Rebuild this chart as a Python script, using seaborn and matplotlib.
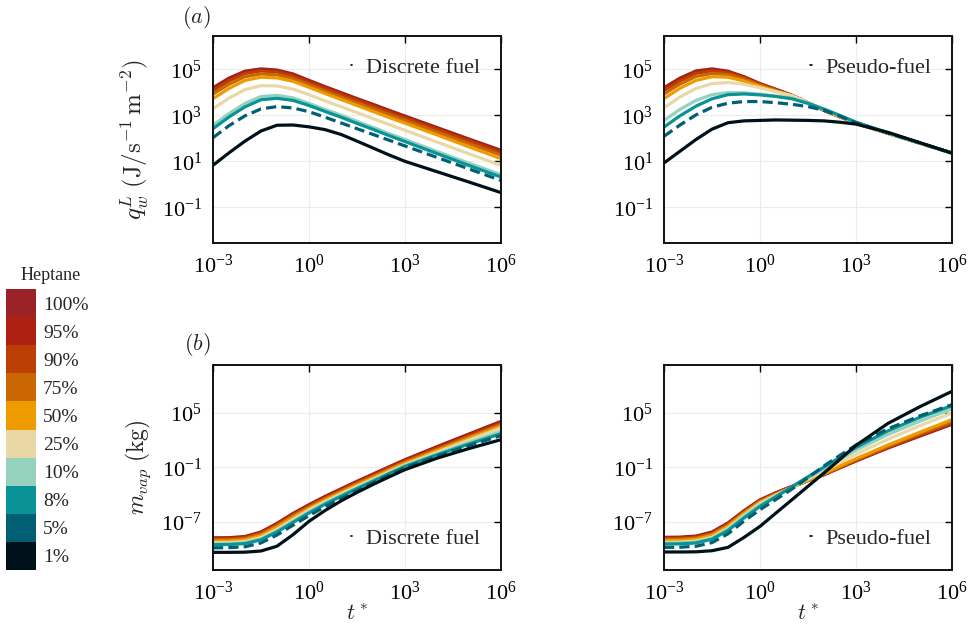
import numpy as np
import pandas as pd
import matplotlib
matplotlib.use("Agg")
import matplotlib.pyplot as plt
import seaborn as sns
from matplotlib.colors import ListedColormap, BoundaryNorm
from matplotlib.cm import ScalarMappable
from matplotlib.lines import Line2D

# ---------------- data (log10 values) ----------------
fractions = ["100%", "95%", "90%", "75%", "50%", "25%", "10%", "8%", "5%", "1%"]
colors = ["#9b2226", "#ae2012", "#bb3e03", "#ca6702", "#ee9b00",
          "#e9d8a6", "#94d2bd", "#0a9396", "#005f73", "#001219"]

log_t = [-3, -2.5, -2, -1.5, -1, -0.5, 0, 0.5, 1, 1.5, 2, 2.5, 3, 4, 5, 6]

# (a) wall heat flux, discrete fuel  (log10 q)
q_discrete = {
    "100%": [4.20, 4.62, 4.92, 5.02, 4.97, 4.80, 4.52, 4.25, 3.99, 3.73, 3.48, 3.22, 2.97, 2.47, 1.97, 1.48],
    "95%":  [4.15, 4.57, 4.88, 4.98, 4.93, 4.76, 4.48, 4.21, 3.95, 3.69, 3.44, 3.18, 2.93, 2.43, 1.93, 1.43],
    "90%":  [4.08, 4.50, 4.82, 4.93, 4.88, 4.71, 4.43, 4.16, 3.90, 3.64, 3.39, 3.13, 2.88, 2.38, 1.88, 1.38],
    "75%":  [3.93, 4.35, 4.68, 4.80, 4.76, 4.60, 4.33, 4.06, 3.80, 3.54, 3.29, 3.03, 2.78, 2.27, 1.77, 1.27],
    "50%":  [3.73, 4.17, 4.52, 4.66, 4.63, 4.48, 4.22, 3.95, 3.69, 3.43, 3.17, 2.91, 2.66, 2.15, 1.63, 1.12],
    "25%":  [3.29, 3.75, 4.12, 4.29, 4.28, 4.14, 3.90, 3.63, 3.38, 3.12, 2.86, 2.60, 2.35, 1.84, 1.33, 0.83],
    "10%":  [2.57, 3.08, 3.52, 3.82, 3.87, 3.76, 3.52, 3.26, 3.01, 2.74, 2.48, 2.21, 1.95, 1.43, 0.92, 0.42],
    "8%":   [2.42, 2.93, 3.37, 3.68, 3.74, 3.65, 3.43, 3.17, 2.92, 2.65, 2.39, 2.12, 1.86, 1.34, 0.82, 0.32],
    "5%":   [2.03, 2.55, 2.98, 3.28, 3.38, 3.32, 3.16, 2.92, 2.67, 2.42, 2.17, 1.92, 1.67, 1.17, 0.67, 0.17],
    "1%":   [0.83, 1.37, 1.88, 2.32, 2.57, 2.58, 2.50, 2.38, 2.17, 1.88, 1.58, 1.28, 1.00, 0.55, 0.10, -0.36],
}

# (a) wall heat flux, pseudo-fuel  (log10 q)
q_pseudo = {
    "100%": [4.20, 4.62, 4.93, 5.02, 4.92, 4.68, 4.38, 4.13, 3.87, 3.55, 3.22, 2.94, 2.66, 2.22, 1.79, 1.36],
    "95%":  [4.15, 4.57, 4.89, 4.98, 4.89, 4.66, 4.37, 4.12, 3.87, 3.55, 3.22, 2.94, 2.66, 2.22, 1.79, 1.36],
    "90%":  [4.08, 4.50, 4.83, 4.93, 4.85, 4.63, 4.35, 4.11, 3.86, 3.55, 3.22, 2.94, 2.66, 2.22, 1.79, 1.36],
    "75%":  [3.93, 4.36, 4.69, 4.82, 4.77, 4.57, 4.31, 4.08, 3.85, 3.55, 3.22, 2.94, 2.66, 2.22, 1.79, 1.36],
    "50%":  [3.73, 4.18, 4.52, 4.68, 4.66, 4.49, 4.26, 4.05, 3.84, 3.55, 3.23, 2.94, 2.66, 2.22, 1.79, 1.36],
    "25%":  [3.33, 3.80, 4.17, 4.38, 4.43, 4.35, 4.20, 4.03, 3.86, 3.56, 3.25, 2.96, 2.67, 2.22, 1.79, 1.36],
    "10%":  [2.78, 3.26, 3.65, 3.90, 3.99, 3.98, 3.92, 3.84, 3.74, 3.53, 3.28, 2.99, 2.70, 2.24, 1.80, 1.36],
    "8%":   [2.49, 2.98, 3.40, 3.72, 3.90, 3.93, 3.89, 3.82, 3.72, 3.52, 3.27, 2.99, 2.70, 2.24, 1.80, 1.36],
    "5%":   [2.09, 2.58, 3.02, 3.35, 3.53, 3.60, 3.60, 3.55, 3.48, 3.38, 3.22, 2.96, 2.68, 2.23, 1.80, 1.36],
    "1%":   [0.93, 1.44, 1.95, 2.40, 2.68, 2.76, 2.78, 2.80, 2.79, 2.78, 2.76, 2.70, 2.62, 2.26, 1.81, 1.36],
}

# (b) vapour mass, discrete fuel  (log10 m)
m_discrete = {
    "100%": [-8.80, -8.78, -8.65, -8.15, -7.20, -6.10, -5.13, -4.22, -3.38, -2.55, -1.75, -0.95, -0.16, 1.28, 2.68, 4.07],
    "95%":  [-8.86, -8.84, -8.71, -8.22, -7.28, -6.18, -5.21, -4.30, -3.46, -2.63, -1.83, -1.03, -0.24, 1.18, 2.58, 3.96],
    "90%":  [-8.93, -8.91, -8.78, -8.29, -7.36, -6.27, -5.30, -4.38, -3.54, -2.71, -1.91, -1.11, -0.32, 1.09, 2.48, 3.85],
    "75%":  [-9.03, -9.01, -8.88, -8.40, -7.47, -6.38, -5.41, -4.49, -3.65, -2.82, -2.02, -1.22, -0.43, 0.97, 2.35, 3.71],
    "50%":  [-9.17, -9.15, -9.02, -8.55, -7.63, -6.55, -5.56, -4.63, -3.79, -2.96, -2.16, -1.35, -0.56, 0.83, 2.20, 3.55],
    "25%":  [-9.35, -9.33, -9.21, -8.76, -7.86, -6.78, -5.72, -4.80, -3.95, -3.12, -2.32, -1.51, -0.72, 0.65, 2.00, 3.34],
    "10%":  [-9.48, -9.46, -9.35, -8.92, -8.04, -6.98, -5.93, -4.98, -4.12, -3.28, -2.47, -1.65, -0.85, 0.45, 1.72, 2.95],
    "8%":   [-9.55, -9.53, -9.43, -9.01, -8.14, -7.09, -6.05, -5.08, -4.21, -3.36, -2.54, -1.71, -0.90, 0.37, 1.57, 2.71],
    "5%":   [-9.90, -9.88, -9.78, -9.36, -8.48, -7.40, -6.35, -5.35, -4.45, -3.57, -2.72, -1.88, -1.05, 0.23, 1.40, 2.50],
    "1%":   [-10.40, -10.40, -10.38, -10.25, -9.72, -8.45, -6.97, -5.78, -4.72, -3.78, -2.90, -2.07, -1.26, 0.00, 1.07, 2.05],
}

# (b) vapour mass, pseudo-fuel  (log10 m)
m_pseudo = {
    "100%": [-8.74, -8.72, -8.60, -8.15, -7.15, -5.80, -4.60, -3.80, -3.10, -2.45, -1.82, -1.05, -0.30, 1.13, 2.45, 3.75],
    "95%":  [-8.80, -8.78, -8.66, -8.22, -7.22, -5.87, -4.66, -3.85, -3.14, -2.47, -1.80, -1.03, -0.28, 1.17, 2.52, 3.82],
    "90%":  [-8.87, -8.85, -8.73, -8.29, -7.29, -5.93, -4.71, -3.89, -3.17, -2.47, -1.78, -1.00, -0.24, 1.22, 2.59, 3.90],
    "75%":  [-8.97, -8.95, -8.83, -8.40, -7.40, -6.02, -4.78, -3.95, -3.20, -2.46, -1.74, -0.94, -0.16, 1.32, 2.71, 4.05],
    "50%":  [-9.10, -9.08, -8.96, -8.53, -7.52, -6.13, -4.86, -4.00, -3.22, -2.44, -1.68, -0.85, -0.05, 1.46, 2.88, 4.26],
    "25%":  [-9.30, -9.28, -9.16, -8.74, -7.72, -6.30, -5.00, -4.08, -3.20, -2.30, -1.38, -0.45, 0.45, 2.10, 3.60, 5.00],
    "10%":  [-9.40, -9.38, -9.27, -8.86, -7.86, -6.43, -5.15, -4.18, -3.20, -2.18, -1.15, -0.10, 0.90, 2.62, 4.10, 5.45],
    "8%":   [-9.48, -9.46, -9.36, -8.95, -7.98, -6.60, -5.32, -4.25, -3.15, -2.05, -0.98, 0.12, 1.20, 3.02, 4.52, 5.81],
    "5%":   [-9.85, -9.83, -9.73, -9.32, -8.35, -6.95, -5.68, -4.55, -3.40, -2.15, -0.85, 0.32, 1.45, 3.25, 4.68, 5.92],
    "1%":   [-10.36, -10.36, -10.34, -10.22, -9.85, -8.75, -7.53, -6.05, -4.58, -3.10, -1.63, -0.12, 1.42, 3.85, 5.70, 7.39],
}

panel_labels = ["Discrete fuel", "Pseudo-fuel"]

# ---------------- style ----------------
sns.set_theme(style="white")
plt.rcParams["font.family"] = ["Liberation Serif", "DejaVu Serif"]
plt.rcParams["mathtext.fontset"] = "cm"
plt.rcParams["axes.unicode_minus"] = True

fig = plt.figure(figsize=(9.72, 6.34), dpi=100)
W, H = 972.0, 634.0


def ax_at(x0, x1, y0, y1):
    return fig.add_axes([x0 / W, 1 - y1 / H, (x1 - x0) / W, (y1 - y0) / H])


axes = {
    ("q", 0): ax_at(213, 501, 36, 243),
    ("q", 1): ax_at(664, 952, 36, 243),
    ("m", 0): ax_at(213, 501, 365, 570),
    ("m", 1): ax_at(664, 952, 365, 570),
}
datasets = {("q", 0): q_discrete, ("q", 1): q_pseudo,
            ("m", 0): m_discrete, ("m", 1): m_pseudo}

palette = dict(zip(fractions, colors))
dashes = {f: (3.2, 1.6) if f == "5%" else "" for f in fractions}

for key, ax in axes.items():
    d = datasets[key]
    rows = []
    for f in fractions:
        for lt, v in zip(log_t, d[f]):
            rows.append({"t": 10.0 ** lt, "val": 10.0 ** v, "Heptane": f})
    df = pd.DataFrame(rows)
    sns.lineplot(data=df, x="t", y="val", hue="Heptane", hue_order=fractions,
                 palette=palette, style="Heptane", style_order=fractions,
                 dashes=dashes, estimator=None, sort=False, lw=2.3,
                 legend=False, ax=ax)
    ax.set_xscale("log")
    ax.set_yscale("log")
    ax.set_xlim(1e-3, 1e6)
    ax.set_xticks([1e-3, 1e0, 1e3, 1e6])
    if key[0] == "q":
        ax.set_ylim(10 ** -2.55, 10 ** 6.45)
        ax.set_yticks([1e-1, 1e1, 1e3, 1e5])
        ax.set_xlabel("")
    else:
        ax.set_ylim(10 ** -12.35, 10 ** 10.3)
        ax.set_yticks([1e-7, 1e-1, 1e5])
        ax.set_xlabel(r"$t^*$", fontsize=16, labelpad=0)
    ax.minorticks_off()
    ax.set_ylabel("")
    ax.tick_params(which="major", direction="in", length=5, width=1.0,
                   top=True, right=True, labelsize=16, pad=8, colors="black")
    ax.grid(True, color="#ececec", lw=0.8)
    ax.set_axisbelow(True)
    for s in ax.spines.values():
        s.set_color("#111111")
        s.set_linewidth(1.4)
    h = Line2D([0], [0], color="black", lw=1.2)
    loc = "upper right" if key[0] == "q" else "lower right"
    ax.legend([h], [panel_labels[key[1]]], loc=loc, frameon=False,
              handlelength=0.05, handletextpad=0.6, fontsize=16,
              borderaxespad=0.55)

axes[("q", 0)].set_ylabel(r"$q_w^L\;(\mathrm{J/s^{-1}\,m^{-2}})$", fontsize=18)
axes[("q", 0)].yaxis.set_label_coords(-0.22, 0.5)
axes[("m", 0)].set_ylabel(r"$m_{vap}\;(\mathrm{kg})$", fontsize=17)
axes[("m", 0)].yaxis.set_label_coords(-0.21, 0.5)

axes[("q", 0)].text(-0.056, 1.09, r"$(a)$", transform=axes[("q", 0)].transAxes,
                    ha="center", va="center", fontsize=16)
axes[("m", 0)].text(-0.056, 1.1, r"$(b)$", transform=axes[("m", 0)].transAxes,
                    ha="center", va="center", fontsize=16)

# ---------------- Heptane colour key ----------------
cax = ax_at(6, 36, 289, 570)
cmap = ListedColormap(colors[::-1])
norm = BoundaryNorm(np.arange(len(fractions) + 1), cmap.N)
cb = fig.colorbar(ScalarMappable(norm=norm, cmap=cmap), cax=cax,
                  ticks=np.arange(len(fractions)) + 0.5)
cb.set_ticklabels(fractions[::-1])
cb.ax.minorticks_off()
cb.ax.tick_params(which="both", length=0, labelsize=14, pad=5,
                  left=False, right=False)
cb.outline.set_visible(False)
fig.text(21 / W, 1 - 275 / H, "Heptane", ha="left", va="center", fontsize=13)

fig.savefig("out.png", dpi=100)
